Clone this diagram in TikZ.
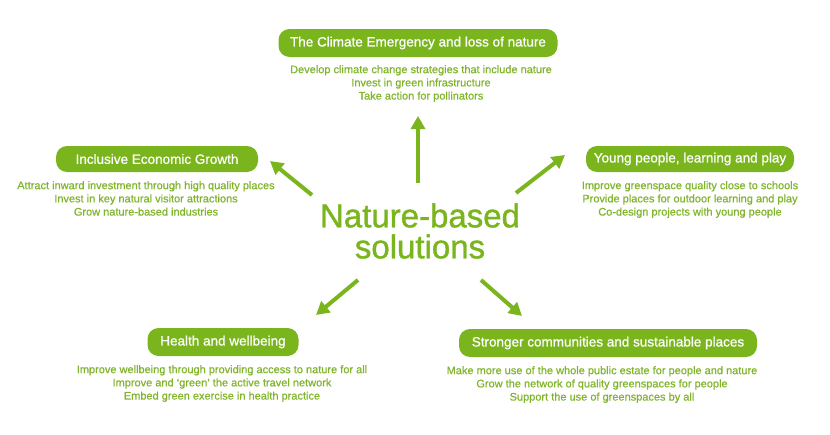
\documentclass[tikz,border=0pt]{standalone}
\usepackage{fontspec}
\setmainfont{Liberation Sans}
\newfontfamily\medfont[FakeBold=0.7,Ligatures=TeX]{Liberation Sans}
\newfontfamily\titlefont[FakeBold=1.2]{Liberation Sans}
\usetikzlibrary{arrows.meta}
\definecolor{lime}{HTML}{7AB51D}
\definecolor{limetext}{HTML}{80B42C}
\tikzset{
  hbox/.style={fill=lime, rounded corners=11pt, text=white, font=\medfont\fontsize{13.5}{15}\selectfont, inner sep=0pt, minimum height=28pt},
  body/.style={text=limetext, font=\medfont\fontsize{11}{13.2}\selectfont, align=center, inner sep=0pt},
  garrow/.style={draw=lime, line width=4pt, -{Triangle[width=14pt,length=13pt]}},
}
\begin{document}
\begin{tikzpicture}[x=1pt,y=-1pt]
\useasboundingbox (0,0) rectangle (830,434);
% boxes
\node[hbox, minimum width=279pt] (top) at (418,43) {The Climate Emergency and loss of nature};
\node[body, anchor=north] (toptxt) at (421,65) {Develop climate change strategies that include nature\\Invest in green infrastructure\\Take action for pollinators};
\node[hbox, minimum width=202pt, minimum height=26pt] (left) at (157,159) {Inclusive Economic Growth};
\node[body, anchor=north] (lefttxt) at (146,181) {Attract inward investment through high quality places\\Invest in key natural visitor attractions\\Grow nature-based industries};
\node[hbox, minimum width=208pt, minimum height=26pt] (right) at (690,159) {Young people, learning and play};
\node[body, anchor=north] (righttxt) at (690,181) {Improve greenspace quality close to schools\\Provide places for outdoor learning and play\\Co-design projects with young people};
\node[hbox, minimum width=151pt] (bl) at (223,342) {Health and wellbeing};
\node[body, anchor=north] (bltxt) at (222,365) {Improve wellbeing through providing access to nature for all\\Improve and ‘green’ the active travel network\\Embed green exercise in health practice};
\node[hbox, minimum width=298pt] (br) at (608,343) {Stronger communities and sustainable places};
\node[body, anchor=north] (brtxt) at (602,366) {Make more use of the whole public estate for people and nature\\Grow the network of quality greenspaces for people\\Support the use of greenspaces by all};
% centre
\node[text=lime, font=\titlefont\fontsize{33}{33}\selectfont, align=center, inner sep=0pt] (nbs) at (420,231) {Nature-based\\[-2pt]solutions};
% arrows
\coordinate (aU0) at (418,183); \coordinate (aU1) at (418,116);
\coordinate (aUL0) at (312,195); \coordinate (aUL1) at (270,161);
\coordinate (aUR0) at (516,193); \coordinate (aUR1) at (565,155);
\coordinate (aLL0) at (358,280); \coordinate (aLL1) at (316,315);
\coordinate (aLR0) at (481,280); \coordinate (aLR1) at (522,316);
\draw[garrow] (aU0) -- (aU1);
\draw[garrow] (aUL0) -- (aUL1);
\draw[garrow] (aUR0) -- (aUR1);
\draw[garrow] (aLL0) -- (aLL1);
\draw[garrow] (aLR0) -- (aLR1);
\end{tikzpicture}
\end{document}
